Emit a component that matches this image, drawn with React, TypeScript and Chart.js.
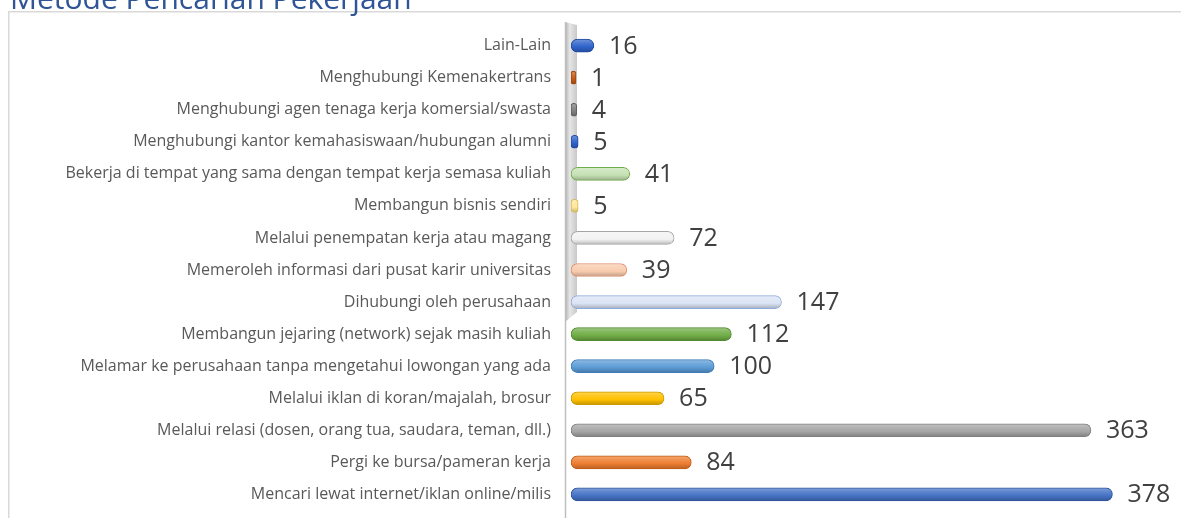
import React, { useEffect, useRef } from "react";
import { Chart, registerables } from "chart.js";

Chart.register(...registerables);

const titleText = "Metode Pencarian Pekerjaan";

const categories = [
  "Lain-Lain",
  "Menghubungi Kemenakertrans",
  "Menghubungi agen tenaga kerja komersial/swasta",
  "Menghubungi kantor kemahasiswaan/hubungan alumni",
  "Bekerja di tempat yang sama dengan tempat kerja semasa kuliah",
  "Membangun bisnis sendiri",
  "Melalui penempatan kerja atau magang",
  "Memeroleh informasi dari pusat karir universitas",
  "Dihubungi oleh perusahaan",
  "Membangun jejaring (network) sejak masih kuliah",
  "Melamar ke perusahaan tanpa mengetahui lowongan yang ada",
  "Melalui iklan di koran/majalah, brosur",
  "Melalui relasi (dosen, orang tua, saudara, teman, dll.)",
  "Pergi ke bursa/pameran kerja",
  "Mencari lewat internet/iklan online/milis",
];

const values = [16, 1, 4, 5, 41, 5, 72, 39, 147, 112, 100, 65, 363, 84, 378];

const barColors = [
  "#2E62C9", "#C55A11", "#7F7F7F", "#2E62C9", "#C5E0B4",
  "#FFE699", "#F2F2F2", "#F8CBAD", "#DAE3F3", "#70AD47",
  "#5B9BD5", "#FFC000", "#A5A5A5", "#ED7D31", "#4472C4",
];

const borderColors = [
  "#1F4AA0", "#9A440C", "#5F5F5F", "#1F4AA0", "#70AD47",
  "#D9B84A", "#A6A6A6", "#E09070", "#8FAADC", "#4E8A2E",
  "#3D7BB8", "#CC9A00", "#808080", "#C55A11", "#2F55A0",
];

function mix(hex: string, target: number, amt: number) {
  const n = parseInt(hex.slice(1), 16);
  const r = (n >> 16) & 255, g = (n >> 8) & 255, b = n & 255;
  const f = (c: number) => Math.round(c + (target - c) * amt);
  return `rgb(${f(r)},${f(g)},${f(b)})`;
}

const decorPlugin = {
  id: "decor",
  beforeDraw(chart: any) {
    const ctx = chart.ctx;
    ctx.save();
    ctx.fillStyle = "#ffffff";
    ctx.fillRect(0, 0, chart.width, chart.height);
    ctx.strokeStyle = "#D9D9D9";
    ctx.lineWidth = 1.5;
    ctx.strokeRect(8.75, 11.75, chart.width + 50, chart.height + 50);
    ctx.fillStyle = "#2F5597";
    ctx.font = '30px "Open Sans"';
    ctx.textBaseline = "alphabetic";
    ctx.textAlign = "left";
    ctx.fillText(titleText, 10, 9);
    ctx.restore();
  },
  beforeDatasetsDraw(chart: any) {
    const ctx = chart.ctx;
    const x0 = chart.scales.x.getPixelForValue(0);
    ctx.save();
    const top = 22;
    const wallBottom = 322;
    const g = ctx.createLinearGradient(x0 - 6, 0, x0 + 6, 0);
    g.addColorStop(0, "#B0B0B0");
    g.addColorStop(0.4, "#E6E6E6");
    g.addColorStop(1, "#C8C8C8");
    ctx.fillStyle = g;
    ctx.beginPath();
    ctx.moveTo(x0 - 6, top);
    ctx.lineTo(x0 + 6, top + 3);
    ctx.lineTo(x0 + 6, wallBottom - 10);
    ctx.lineTo(x0 - 6, wallBottom);
    ctx.closePath();
    ctx.fill();
    ctx.strokeStyle = "#BFBFBF";
    ctx.lineWidth = 1.5;
    ctx.beginPath();
    ctx.moveTo(x0 - 5.5, top);
    ctx.lineTo(x0 - 5.5, chart.height);
    ctx.stroke();
    ctx.restore();
  },
  afterDatasetsDraw(chart: any) {
    const ctx = chart.ctx;
    const meta = chart.getDatasetMeta(0);
    ctx.save();
    ctx.fillStyle = "#404040";
    ctx.font = '25px "Open Sans"';
    ctx.textBaseline = "middle";
    ctx.textAlign = "left";
    meta.data.forEach((bar: any, i: number) => {
      ctx.fillText(String(values[i]), bar.x + 15, bar.y + 1);
    });
    ctx.restore();
  },
};

export default function App() {
  const ref = useRef<HTMLCanvasElement | null>(null);
  useEffect(() => {
    if (!ref.current) return;
    const chart = new Chart(ref.current, {
      type: "bar",
      data: {
        labels: categories,
        datasets: [
          {
            data: values,
            backgroundColor: (c: any) => {
              const i = c.dataIndex;
              const base = barColors[i] || "#888888";
              const chartObj = c.chart;
              if (i === undefined || !chartObj.scales || !chartObj.scales.y) return base;
              const y = chartObj.scales.y.getPixelForValue(i);
              if (!isFinite(y)) return base;
              const gr = chartObj.ctx.createLinearGradient(0, y - 7, 0, y + 7);
              gr.addColorStop(0, mix(base, 255, 0.35));
              gr.addColorStop(0.3, mix(base, 255, 0.15));
              gr.addColorStop(0.6, base);
              gr.addColorStop(1, mix(base, 0, 0.25));
              return gr;
            },
            borderColor: borderColors,
            borderWidth: 1,
            borderSkipped: false,
            borderRadius: 7,
            barThickness: 13,
            minBarLength: 5,
          },
        ],
      },
      options: {
        indexAxis: "y",
        animation: false,
        responsive: false,
        devicePixelRatio: 1,
        layout: { padding: { top: 28.6, bottom: 20.6, left: 0, right: 37 } },
        plugins: {
          legend: { display: false },
          title: { display: false },
          tooltip: { enabled: false },
        },
        scales: {
          x: {
            display: false,
            min: 0,
            max: 400,
            grid: { display: false },
          },
          y: {
            grid: { display: false, drawTicks: false },
            border: { display: false },
            afterFit: (scale: any) => {
              scale.width = 571;
            },
            ticks: {
              padding: 20,
              color: "#595959",
              font: { family: '"Open Sans"', size: 16 },
              autoSkip: false,
            },
          },
        },
      },
      plugins: [decorPlugin],
    } as any);
    return () => chart.destroy();
  }, []);
  return (
    <div style={{ position: "fixed", left: 0, top: 0, width: 1181, height: 518, overflow: "hidden", background: "#fff" }}>
      <canvas ref={ref} width={1181} height={540} style={{ display: "block" }} />
    </div>
  );
}
